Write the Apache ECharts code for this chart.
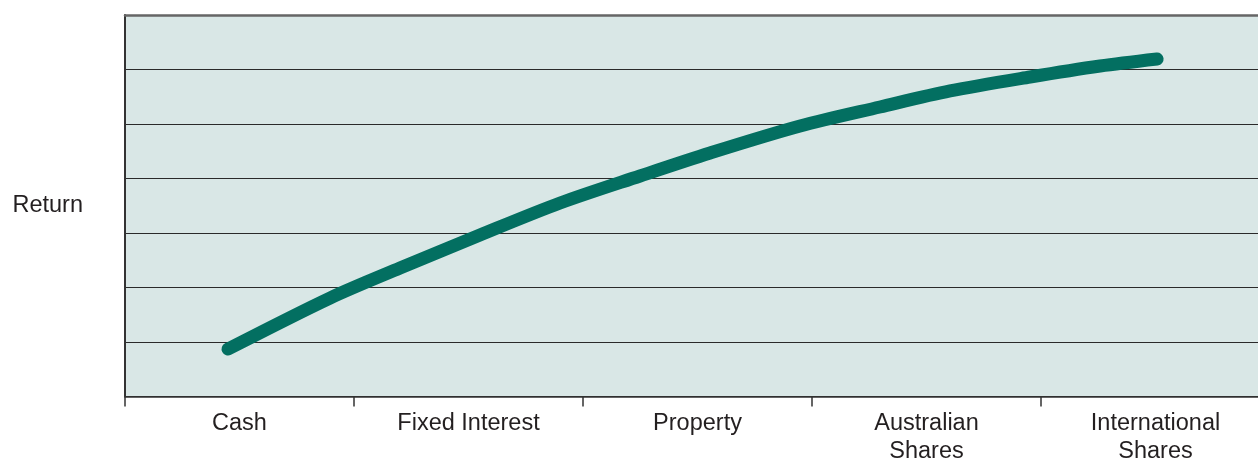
<!DOCTYPE html>
<html>
<head>
<meta charset="utf-8">
<script src="https://cdn.jsdelivr.net/npm/echarts@6/dist/echarts.min.js"></script>
<style>
html,body{margin:0;padding:0;background:#fff;}
#c{width:1258px;height:459px;}
</style>
</head>
<body>
<div id="c"></div>
<script>
// Data
const categories = ['Cash', 'Fixed Interest', 'Property', 'Australian\nShares', 'International\nShares'];
// Curve position along category axis (0..5 = category bands) and return level (0..7)
const curveX = [0.450, 0.895, 1.201, 1.550, 1.900, 2.249, 2.555, 2.948, 3.297, 3.603, 3.952, 4.258, 4.507];
const curveY = [0.872, 1.807, 2.358, 2.963, 3.550, 4.046, 4.468, 4.963, 5.312, 5.606, 5.862, 6.064, 6.193];
const yAxisName = 'Return';

const chart = echarts.init(document.getElementById('c'), null, {renderer: 'canvas'});
const textColor = '#231f20';
const font = '"Liberation Sans", Arial, Helvetica, sans-serif';

chart.setOption({
  animation: false,
  grid: {
    left: 125, width: 1145, top: 15, height: 381.5,
    containLabel: false,
    outerBoundsMode: 'none',
    show: true, backgroundColor: '#d9e7e6', borderWidth: 0
  },
  xAxis: [
    {
      type: 'category',
      data: categories,
      position: 'bottom',
      boundaryGap: true,
      axisLine: {show: true, lineStyle: {color: '#333', width: 1.5}},
      axisTick: {show: true, length: 10, lineStyle: {color: '#333', width: 1.5}},
      axisLabel: {color: textColor, fontSize: 23.5, fontFamily: font, margin: 13.5, lineHeight: 28, interval: 0, hideOverlap: false},
      splitLine: {show: false}
    },
    {
      type: 'value',
      min: 0, max: 5,
      position: 'top',
      axisLine: {show: true, lineStyle: {color: '#666', width: 2.5}},
      axisTick: {show: false},
      axisLabel: {show: false},
      splitLine: {show: false}
    }
  ],
  yAxis: {
    type: 'value',
    min: 0, max: 7, interval: 1,
    name: yAxisName,
    nameLocation: 'middle',
    nameRotate: 0,
    nameGap: 42,
    nameTextStyle: {color: textColor, fontSize: 23.5, fontFamily: font, padding: [0, 0, 4, 0]},
    axisLine: {show: true, lineStyle: {color: '#333', width: 2}},
    axisTick: {show: false},
    axisLabel: {show: false},
    splitLine: {show: true, lineStyle: {color: '#2a2a2a', width: 1.2}}
  },
  series: [{
    type: 'line',
    xAxisIndex: 1,
    data: curveX.map((x, i) => [x, curveY[i]]),
    smooth: 0.3,
    showSymbol: false,
    lineStyle: {color: '#036f61', width: 13, cap: 'round', join: 'round'}
  }]
});
</script>
</body>
</html>
